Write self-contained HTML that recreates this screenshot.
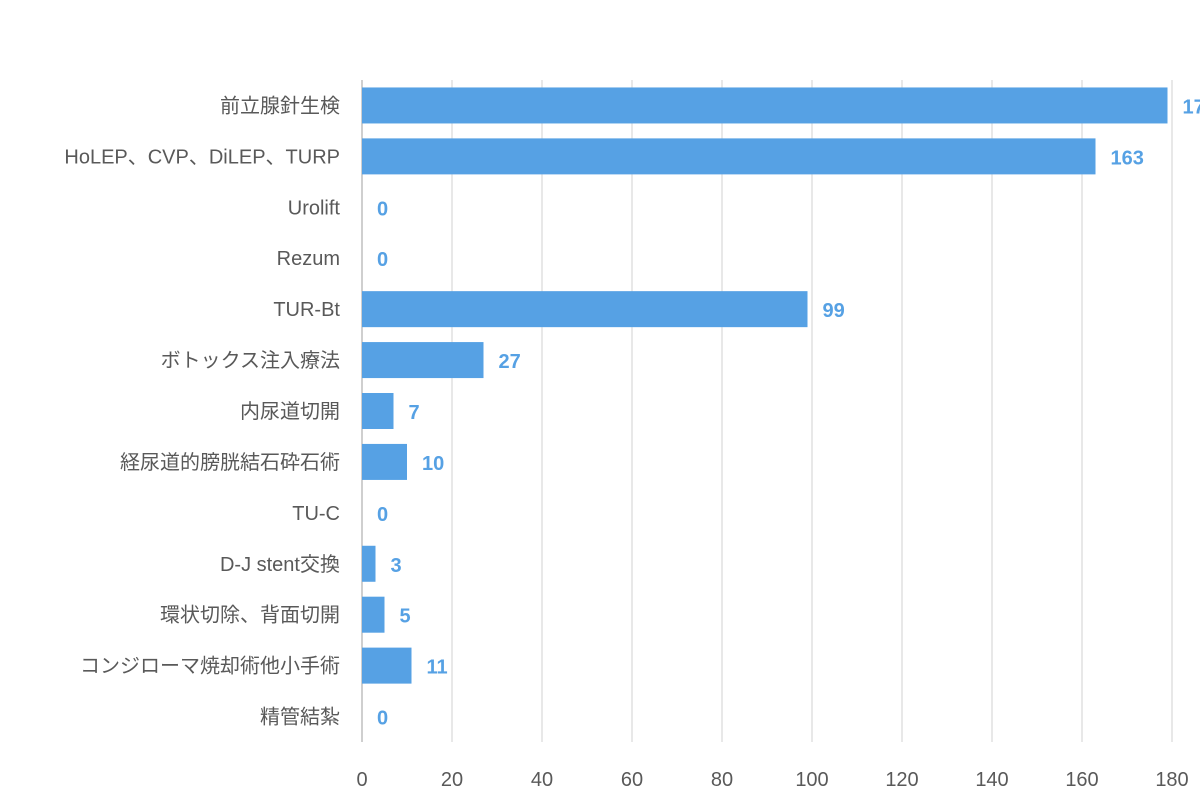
<!DOCTYPE html>
<html><head><meta charset="utf-8"><style>
body{margin:0;background:#fff;width:1200px;height:800px;overflow:hidden}
svg text{font-family:"Liberation Sans","Noto Sans CJK JP",sans-serif}
</style></head><body>
<svg id="chart" width="1200" height="800" xmlns="http://www.w3.org/2000/svg"></svg>
<script>
const categories=["前立腺針生検","HoLEP、CVP、DiLEP、TURP","Urolift","Rezum","TUR-Bt","ボトックス注入療法","内尿道切開","経尿道的膀胱結石砕石術","TU-C","D-J stent交換","環状切除、背面切開","コンジローマ焼却術他小手術","精管結紮"];
const values=[179,163,0,0,99,27,7,10,0,3,5,11,0];
const ticks=[0,20,40,60,80,100,120,140,160,180];
const NS="http://www.w3.org/2000/svg";
const svgEl=document.getElementById('chart');
const x0=362,x1=1172,xmax=180,plotTop=80,plotBottom=742;
const xs=v=>x0+(v/xmax)*(x1-x0);
const band=(plotBottom-plotTop)/categories.length;
const ys=i=>plotTop+band*i+band/2;
function mk(t,a){const e=document.createElementNS(NS,t);for(const k in a)e.setAttribute(k,a[k]);svgEl.appendChild(e);return e;}
ticks.forEach(t=>{
 const l=mk('line',{x1:xs(t),x2:xs(t),y1:plotTop,y2:plotBottom,stroke:t===0?'#bfbfbf':'#d9d9d9','stroke-width':t===0?1.5:1.2});
 
 
 const tx=mk('text',{x:xs(t),y:786,'text-anchor':'middle','font-size':20,fill:'#595959'});
 tx.textContent=t;
 
 
});
categories.forEach((c,i)=>{
 const y=ys(i);
 const lb=mk('text',{x:340,y:y+7,'text-anchor':'end','font-size':20,fill:'#595959'});
 lb.textContent=c;
 
 
 const v=values[i];
 if(v>0){
  const r=mk('rect',{x:x0,y:y-18,width:xs(v)-x0,height:36,fill:'#56a1e4'});
  
  
 }
 const vl=mk('text',{x:xs(v)+15,y:y+8,'font-size':20,'font-weight':'bold',fill:'#56a1e4'});
 vl.textContent=v;
 
 
});
</script>
</body></html>
